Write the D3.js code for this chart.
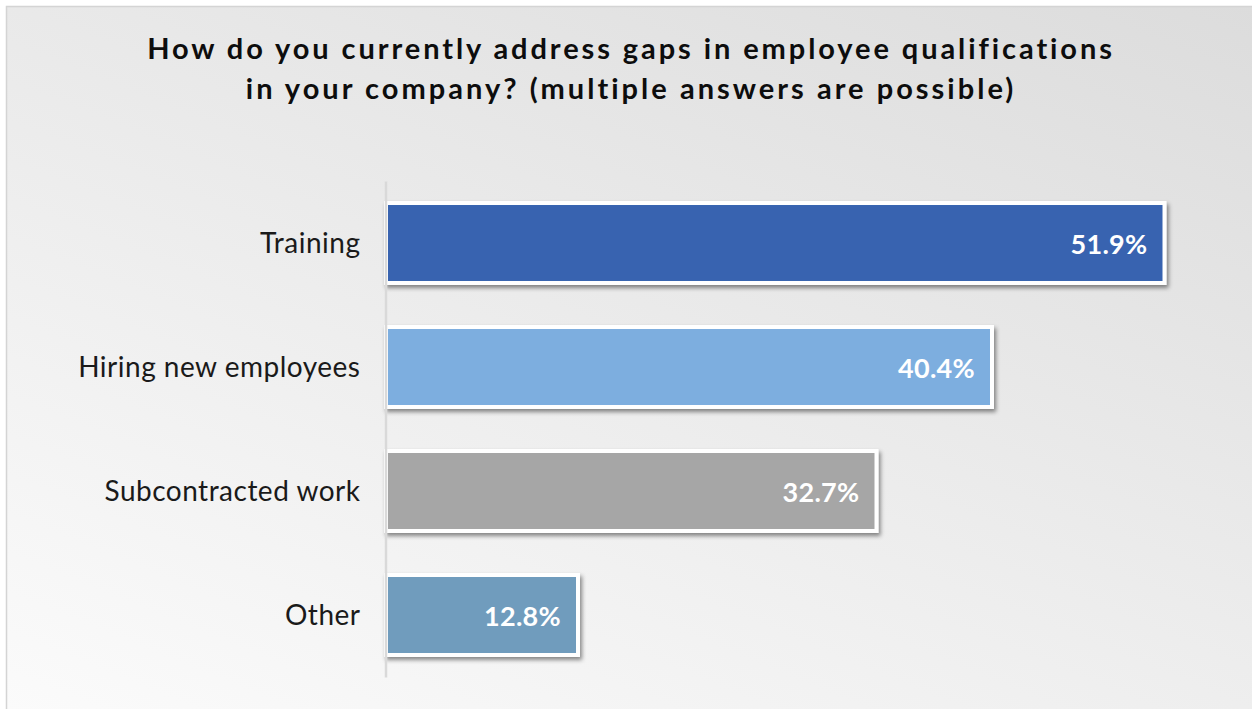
<!DOCTYPE html>
<html lang="en">
  <head>
    <meta charset="UTF-8" />
    <title>Employee qualifications</title>
    <style>
      body { margin: 0; background: #fff; }
      .title { font-family: Lato, sans-serif; font-weight: 700; fill: #0d0d0d; }
      .cat { font-family: Lato, sans-serif; font-size: 28px; fill: #1a1a1a; letter-spacing: 0.5px; }
      .val { font-family: Lato, sans-serif; font-weight: 700; font-size: 27px; fill: #fff; letter-spacing: 0.3px; }
    </style>
  </head>
  <body>
    <script src="https://cdn.jsdelivr.net/npm/d3@7"></script>
    <script>
    var titleLines = ["How do you currently address gaps in employee qualifications",
                      "in your company? (multiple answers are possible)"];
    var categories = ["Training", "Hiring new employees", "Subcontracted work", "Other"];
    var values = [51.9, 40.4, 32.7, 12.8];
    var colors = ["#3864b0", "#7daedf", "#a6a6a6", "#6f9cbd"];

    var w = 1252, h = 709;
    var svg = d3.select("body").append("svg")
                .attr("width", w)
                .attr("height", h);

    var defs = svg.append("defs");
    var grad = defs.append("linearGradient")
                   .attr("id", "bg")
                   .attr("gradientUnits", "userSpaceOnUse")
                   .attr("x1", 0).attr("y1", 709)
                   .attr("x2", 428).attr("y2", -335);
    grad.append("stop").attr("offset", 0).attr("stop-color", "#fbfbfb");
    grad.append("stop").attr("offset", 1).attr("stop-color", "#dcdcdc");

    var shadow = defs.append("filter")
                     .attr("id", "shadow")
                     .attr("x", "-5%").attr("y", "-20%")
                     .attr("width", "115%").attr("height", "150%");
    shadow.append("feDropShadow")
          .attr("dx", 2).attr("dy", 3)
          .attr("stdDeviation", 2)
          .attr("flood-color", "#000")
          .attr("flood-opacity", 0.45);

    // chart frame
    svg.append("rect")
       .attr("x", 6.5).attr("y", 6.5)
       .attr("width", w + 20).attr("height", h + 20)
       .attr("fill", "url(#bg)")
       .attr("stroke", "#d4d4d4")
       .attr("stroke-width", 1.5);

    // title, widened a bit with letter-spacing (reference font is a wide one)
    var titleWidths = [965, 768];
    svg.selectAll(".title")
       .data(titleLines)
       .enter().append("text")
       .attr("class", "title")
       .attr("x", 631)
       .attr("y", function(d, i) { return 59 + i * 40; })
       .attr("text-anchor", "middle")
       .style("font-size", "29px")
       .text(function(d) { return d; })
       .each(function(d, i) {
         var len = this.getComputedTextLength();
         var sp = (titleWidths[i] - len) / (d.length - 1);
         d3.select(this).style("letter-spacing", sp + "px");
       });

    var xScale = d3.scaleLinear()
                   .domain([0, 60])
                   .range([386, 1286]);
    var yScale = d3.scaleBand()
                   .domain(categories)
                   .range([181, 677])
                   .paddingInner(0.355)
                   .paddingOuter(0.1775);

    var bars = svg.append("g").attr("class", "bars");
    bars.selectAll("rect")
        .data(values)
        .enter().append("rect")
        .attr("x", xScale(0))
        .attr("y", function(d, i) { return yScale(categories[i]); })
        .attr("width", function(d) { return xScale(d) - xScale(0); })
        .attr("height", yScale.bandwidth())
        .attr("fill", function(d, i) { return colors[i]; })
        .attr("stroke", "#fff")
        .attr("stroke-width", 4)
        .attr("filter", "url(#shadow)");

    bars.selectAll("text")
        .data(values)
        .enter().append("text")
        .attr("class", "val")
        .attr("x", function(d) { return xScale(d) - 17; })
        .attr("y", function(d, i) { return yScale(categories[i]) + yScale.bandwidth() / 2 + 11; })
        .attr("text-anchor", "end")
        .text(function(d) { return d.toFixed(1) + "%"; });

    // category axis
    var yAxis = d3.axisLeft(yScale)
                  .tickSizeInner(0)
                  .tickSizeOuter(0)
                  .tickPadding(25);
    var ax = svg.append("g")
                .attr("transform", "translate(385.5,0)")
                .call(yAxis);
    ax.select(".domain")
      .attr("stroke", "#d9d9d9")
      .attr("stroke-width", 2.5);
    ax.selectAll(".tick text")
      .attr("class", "cat")
      .attr("font-family", null)
      .attr("font-size", null)
      .attr("fill", null)
      .attr("dy", "0.36em");
    </script>
  </body>
</html>
